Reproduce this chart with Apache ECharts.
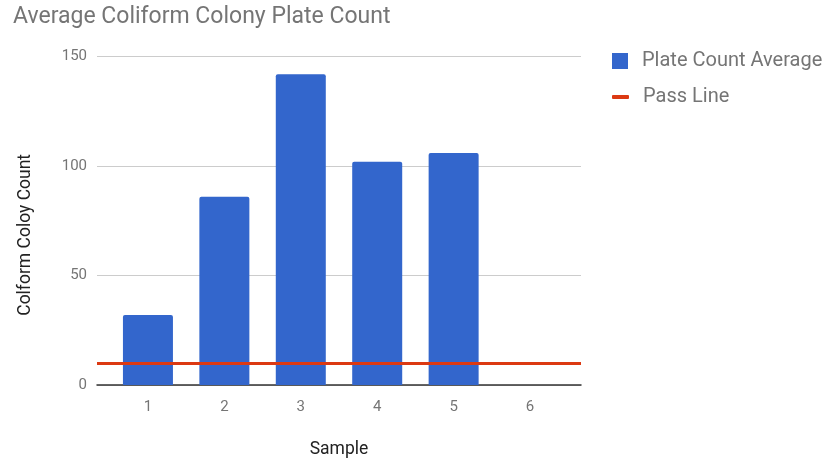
<!DOCTYPE html>
<html>
<head>
<meta charset="utf-8">
<script src="https://cdn.jsdelivr.net/npm/echarts@6/dist/echarts.min.js"></script>
<style>
  html, body { margin: 0; padding: 0; background: #fff; }
  #chart { width: 822px; height: 460px; }
</style>
</head>
<body>
<div id="chart"></div>
<script>
// Sample numbers along the x axis
const samples = [1, 2, 3, 4, 5, 6];
// Average plate count per sample (sample 6 has no result)
const plateCountAverage = [32, 86, 142, 102, 106, null];
// Threshold drawn across the plot
const passLine = 10;
// Y axis tick values
const yTicks = [0, 50, 100, 150];

const font = 'Roboto, "Noto Sans", Arial, sans-serif';
const chart = echarts.init(document.getElementById('chart'), null, { renderer: 'canvas' });

chart.setOption({
  animation: false,
  textStyle: { fontFamily: font },
  title: {
    text: 'Average Coliform Colony Plate Count',
    left: 8,
    top: 1,
    textStyle: { fontSize: 23, fontWeight: 'normal', color: '#757575', fontFamily: font }
  },
  legend: [
    {
      data: [{ name: 'Plate Count Average', icon: 'rect' }],
      left: 607,
      top: 46,
      itemWidth: 16,
      itemHeight: 16,
      textStyle: { fontSize: 20, color: '#757575', padding: [0, 0, 0, 9] }
    },
    {
      data: [{ name: 'Pass Line', icon: 'roundRect' }],
      left: 607,
      top: 82,
      itemWidth: 17,
      itemHeight: 4,
      textStyle: { fontSize: 20, color: '#757575', padding: [0, 0, 0, 9] }
    }
  ],
  grid: { left: 97, right: 241, top: 56.7, bottom: 75, containLabel: false, outerBoundsMode: 'none' },
  xAxis: {
    type: 'value',
    min: samples[0] - 2 / 3,
    max: samples[samples.length - 1] + 2 / 3,
    name: 'Sample',
    nameLocation: 'middle',
    nameGap: 56,
    nameTextStyle: { fontSize: 17.5, color: '#222' },
    axisLine: { show: true, lineStyle: { color: '#333', width: 1.5 } },
    axisTick: { show: false },
    splitLine: { show: false },
    axisLabel: {
      customValues: samples,
      fontSize: 15,
      color: '#757575',
      margin: 15,
      formatter: v => String(v)
    }
  },
  yAxis: {
    type: 'value',
    min: yTicks[0],
    max: yTicks[yTicks.length - 1],
    interval: 50,
    name: 'Colform Coloy Count',
    nameLocation: 'middle',
    nameGap: 62,
    nameTextStyle: { fontSize: 17.5, color: '#222', padding: [0, 28, 0, 0] },
    axisLine: { show: false },
    axisTick: { show: false },
    splitLine: { lineStyle: { color: '#cccccc', width: 1 } },
    axisLabel: { fontSize: 15, color: '#757575', margin: 10 }
  },
  series: [
    {
      name: 'Plate Count Average',
      type: 'bar',
      barWidth: 50,
      itemStyle: { color: '#3366cc', borderRadius: [2, 2, 0, 0] },
      data: samples.map((s, i) => [s, plateCountAverage[i]])
    },
    {
      name: 'Pass Line',
      type: 'line',
      data: [],
      itemStyle: { color: '#dc3912' },
      lineStyle: { color: '#dc3912', width: 3 },
      markLine: {
        silent: true,
        symbol: 'none',
        label: { show: false },
        lineStyle: { color: '#dc3912', width: 3, type: 'solid' },
        data: [{ yAxis: passLine }]
      }
    }
  ]
});
</script>
</body>
</html>
